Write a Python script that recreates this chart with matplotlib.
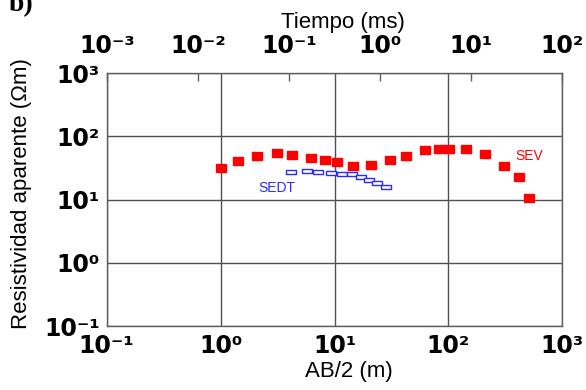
import numpy as np
import matplotlib
matplotlib.use("Agg")
import matplotlib.pyplot as plt
from matplotlib.ticker import FixedLocator, FuncFormatter, NullLocator

# SEV: resistividad aparente vs AB/2
sev_ab2 = [1.0, 1.43, 2.1, 3.1, 4.2, 6.2, 8.3, 10.5, 14.4, 21, 31, 42,
           62, 83, 101, 144, 211, 308, 414, 511]
sev_rho = [32, 40.7, 49.4, 54, 51, 46, 43, 39, 34, 35, 43, 49,
           61.5, 63, 64, 64, 52, 34, 23, 10.7]

# SEDT (transitorio) en la misma escala de AB/2 equivalente
sedt_ab2 = [4.12, 5.7, 7.2, 9.3, 11.6, 14.2, 17.0, 20.2, 23.8, 28.3]
sedt_rho = [27.6, 28.3, 27.3, 26.0, 25.3, 25.1, 22.5, 20.4, 18.1, 16.0]

plt.rcParams['font.family'] = ['Liberation Sans', 'DejaVu Sans']

fig = plt.figure(figsize=(5.86, 3.90), dpi=100)
ax = fig.add_axes([0.1821, 0.1641, 0.7775, 0.6479])

# marcador rectangular (mas ancho que alto)
rect_red = [(-1.3, -1), (1.3, -1), (1.3, 1), (-1.3, 1), (-1.3, -1)]
rect_blue = [(-2.2, -1), (2.2, -1), (2.2, 1), (-2.2, 1), (-2.2, -1)]

ax.plot(sev_ab2, sev_rho, linestyle='none', marker=rect_red, markersize=7.8,
        markerfacecolor='#ff0000', markeredgecolor='#ff0000', zorder=3)
ax.plot(sedt_ab2, sedt_rho, linestyle='none', marker=rect_blue, markersize=7.8,
        markerfacecolor='white', markeredgecolor='#2a2aff', markeredgewidth=1.0,
        zorder=3)

ax.text(511, 49, 'SEV', color='#ff0000', fontsize=10, ha='center', va='center')
ax.text(3.1, 15.5, 'SEDT', color='#2a2aff', fontsize=10, ha='center', va='center')

ax.set_xscale('log')
ax.set_yscale('log')
ax.set_xlim(1e-1, 1e3)
ax.set_ylim(1e-1, 1e3)

SUP = str.maketrans('-0123456789', '\u207b\u2070\u00b9\u00b2\u00b3\u2074\u2075\u2076\u2077\u2078\u2079')


def pow_label(v, pos):
    return '10' + str(int(round(np.log10(v)))).translate(SUP)


decades = [1e-1, 1e0, 1e1, 1e2, 1e3]
ax.xaxis.set_major_locator(FixedLocator(decades))
ax.yaxis.set_major_locator(FixedLocator(decades))
ax.xaxis.set_minor_locator(NullLocator())
ax.yaxis.set_minor_locator(NullLocator())
ax.xaxis.set_major_formatter(FuncFormatter(pow_label))
ax.yaxis.set_major_formatter(FuncFormatter(pow_label))
ax.tick_params(axis='both', length=0, labelsize=17, pad=6)
ax.tick_params(axis='y', pad=5)
for lab in ax.get_xticklabels() + ax.get_yticklabels():
    lab.set_family('DejaVu Sans')
    lab.set_fontweight('bold')

ax.grid(True, color='#505050', linewidth=1.0)
for s in ax.spines.values():
    s.set_color('#606060')
    s.set_linewidth(1.0)

# eje superior: tiempo
top = ax.twiny()
top.set_xscale('log')
top.set_xlim(1e-3, 1e2)
top.xaxis.set_major_locator(FixedLocator([1e-3, 1e-2, 1e-1, 1e0, 1e1, 1e2]))
top.xaxis.set_minor_locator(NullLocator())
top.xaxis.set_major_formatter(FuncFormatter(pow_label))
top.tick_params(axis='x', direction='in', length=6, width=1.0, color='#606060',
                labelsize=17, pad=11)
for lab in top.get_xticklabels():
    lab.set_family('DejaVu Sans')
    lab.set_fontweight('bold')
for s in top.spines.values():
    s.set_visible(False)

top.set_xlabel('Tiempo (ms)', fontsize=16)
top.xaxis.set_label_coords(0.519, 1.203)
top.xaxis.label.set_va('center')
ax.set_xlabel('AB/2 (m)', fontsize=16)
ax.xaxis.set_label_coords(0.532, -0.182)
ax.xaxis.label.set_va('center')
ax.set_ylabel('Resistividad aparente (\u03a9m)', fontsize=16)
ax.yaxis.set_label_coords(-0.186, 0.524)
ax.yaxis.label.set_va('center')

fig.text(0.015, 1 - 11 / 390, 'b)', fontsize=20, fontweight='bold',
         family='Liberation Serif', va='baseline')

fig.savefig('out.png', dpi=100)
